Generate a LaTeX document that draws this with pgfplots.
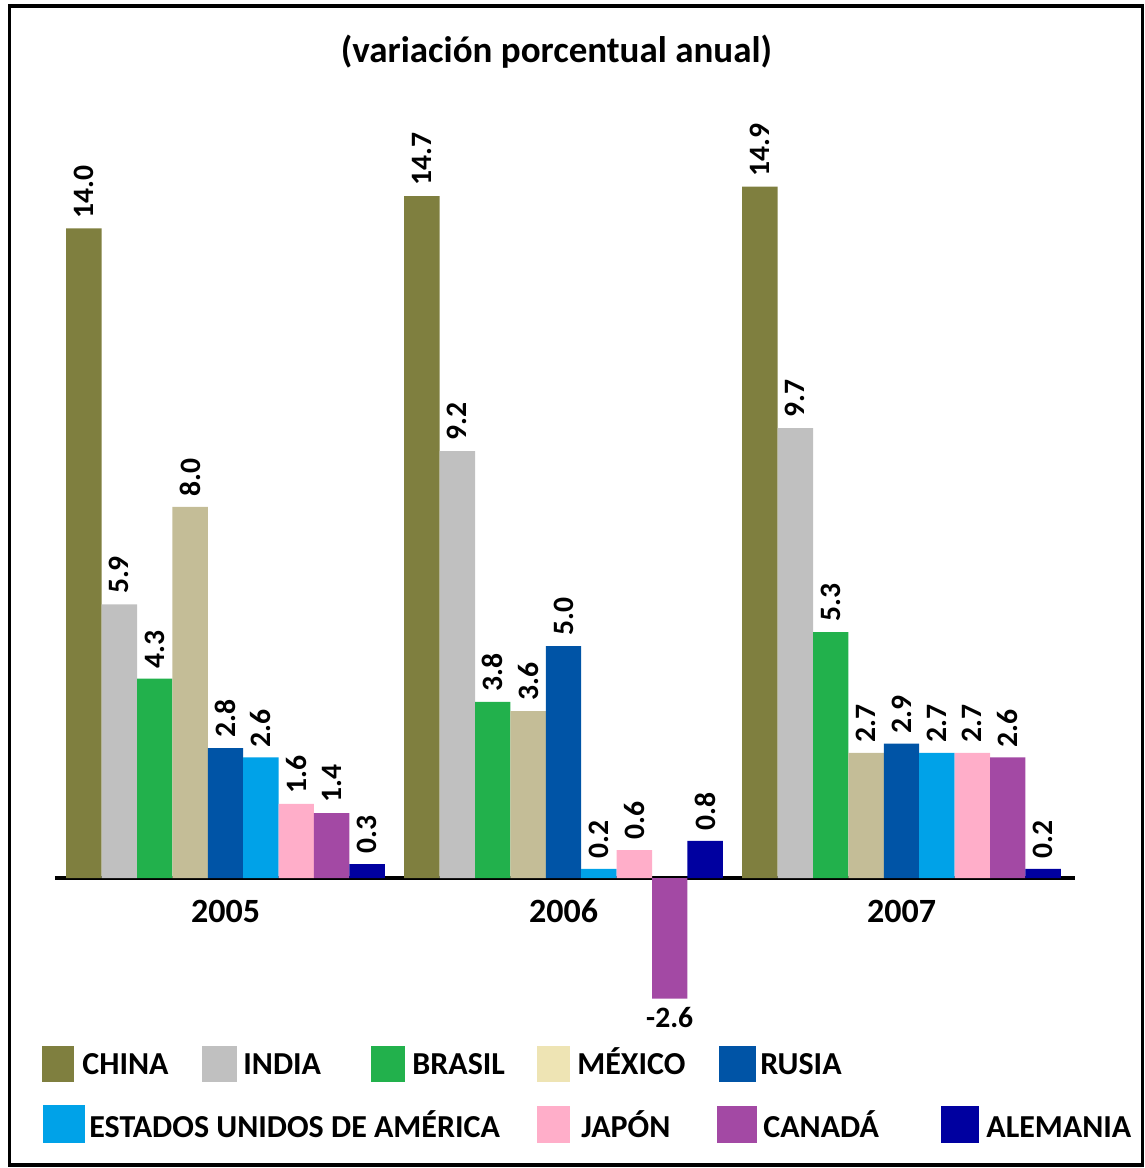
\documentclass[border=0pt]{standalone}
\usepackage{pgfplots}
\usepackage{pgfplotstable}
\pgfplotsset{compat=1.18}
\usepackage{fontspec}
\setmainfont{Carlito}
\definecolor{cChina}{RGB}{127,127,63}
\definecolor{cIndia}{RGB}{192,192,192}
\definecolor{cBrasil}{RGB}{34,177,76}
\definecolor{cMexico}{RGB}{196,189,151}
\definecolor{cMexicoL}{RGB}{238,228,180}
\definecolor{cRusia}{RGB}{0,84,166}
\definecolor{cEUA}{RGB}{0,162,232}
\definecolor{cJapon}{RGB}{255,174,201}
\definecolor{cCanada}{RGB}{163,73,164}
\definecolor{cAlemania}{RGB}{0,0,160}
\pgfplotstableread{
x china india brasil mexico rusia eua japon canada alemania
1 14.0 5.9 4.3 8.0 2.8 2.6 1.6 1.4 0.3
2 14.7 9.2 3.8 3.6 5.0 0.2 0.6 -2.6 0.8
3 14.9 9.7 5.3 2.7 2.9 2.7 2.7 2.6 0.2
}\datatable
\newcommand\lblfont{\bfseries\fontsize{14.8}{17}\selectfont}
\begin{document}
\begin{tikzpicture}[x=0.5pt,y=0.5pt]
\useasboundingbox (0,0) rectangle (1145,1168);
\draw[line width=1.6pt] (9.5,3) rectangle (1142.5,1162);
\node[font=\bfseries\fontsize{18.5}{22}\selectfont, anchor=base, inner sep=0pt] at (556.5,1105) {(variación porcentual anual)};
\begin{axis}[
  at={(27.5pt,80pt)}, anchor=south west,
  scale only axis, width=510pt, height=424.55pt,
  xmin=0.49556, xmax=3.51331, ymin=-2.8, ymax=15.5,
  axis x line=middle, axis y line=none,
  hide obscured x ticks=false,
  x axis line style={-, line width=2pt, black},
  xtick={1,2,3}, xticklabels={2005,2006,2007},
  major tick length=0pt,
  xticklabel style={font=\bfseries\fontsize{17}{20}\selectfont, anchor=base, yshift=-22pt},
  ytick=\empty,
  ybar, bar width=0.10473,
  /pgf/number format/.cd, fixed, fixed zerofill, precision=1, assume math mode=true,
  /pgfplots/.cd,
  nodes near coords,
  every node near coord/.append style={rotate=90, anchor=west, font=\lblfont, inner xsep=5pt, inner ysep=0pt, text=black},
  clip=false,
]
\addplot[fill=cChina, draw=none, bar shift=-0.41892] table[x=x,y=china]{\datatable};
\addplot[fill=cIndia, draw=none, bar shift=-0.31419] table[x=x,y=india]{\datatable};
\addplot[fill=cBrasil, draw=none, bar shift=-0.20946] table[x=x,y=brasil]{\datatable};
\addplot[fill=cMexico, draw=none, bar shift=-0.10473] table[x=x,y=mexico]{\datatable};
\addplot[fill=cRusia, draw=none, bar shift=0] table[x=x,y=rusia]{\datatable};
\addplot[fill=cEUA, draw=none, bar shift=0.10473] table[x=x,y=eua]{\datatable};
\addplot[fill=cJapon, draw=none, bar shift=0.20946] table[x=x,y=japon]{\datatable};
\addplot[fill=cCanada, draw=none, bar shift=0.31419,
  nodes near coords={\pgfmathfloatifflags{\pgfplotspointmeta}{-}{}{\pgfmathprintnumber{\pgfplotspointmeta}}}] table[x=x,y=canada]{\datatable};
\addplot[fill=cAlemania, draw=none, bar shift=0.41892] table[x=x,y=alemania]{\datatable};
% label of the negative bar, set horizontally below it (shifted onto the Canada bar)
\addplot[draw=none, fill=none, bar shift=0, forget plot,
  every node near coord/.style={rotate=0, anchor=north, xshift=53.1pt, font=\lblfont, inner xsep=0pt, inner ysep=4pt, text=black}]
  coordinates {(2,-2.6)};
\end{axis}
% legend
\begin{scope}[every node/.style={font=\bfseries\fontsize{16}{19}\selectfont, anchor=base west, inner sep=0pt}]
\fill[cChina] (42,86) rectangle (74,122); \node at (82,93) {CHINA};
\fill[cIndia] (202,86) rectangle (237,122); \node at (243,93) {INDIA};
\fill[cBrasil] (371,86) rectangle (405,122); \node at (412,93) {BRASIL};
\fill[cMexicoL] (537,86) rectangle (570,122); \node at (577,93) {MÉXICO};
\fill[cRusia] (719,86) rectangle (756,122); \node at (760,93) {RUSIA};
\fill[cEUA] (43,25) rectangle (85,63); \node at (89,31) {ESTADOS UNIDOS DE AMÉRICA};
\fill[cJapon] (537,25) rectangle (570,62); \node at (581,31) {JAPÓN};
\fill[cCanada] (717,25) rectangle (757,62); \node at (763,31) {CANADÁ};
\fill[cAlemania] (941,25) rectangle (979,62); \node at (986,31) {ALEMANIA};
\end{scope}
\end{tikzpicture}
\end{document}
